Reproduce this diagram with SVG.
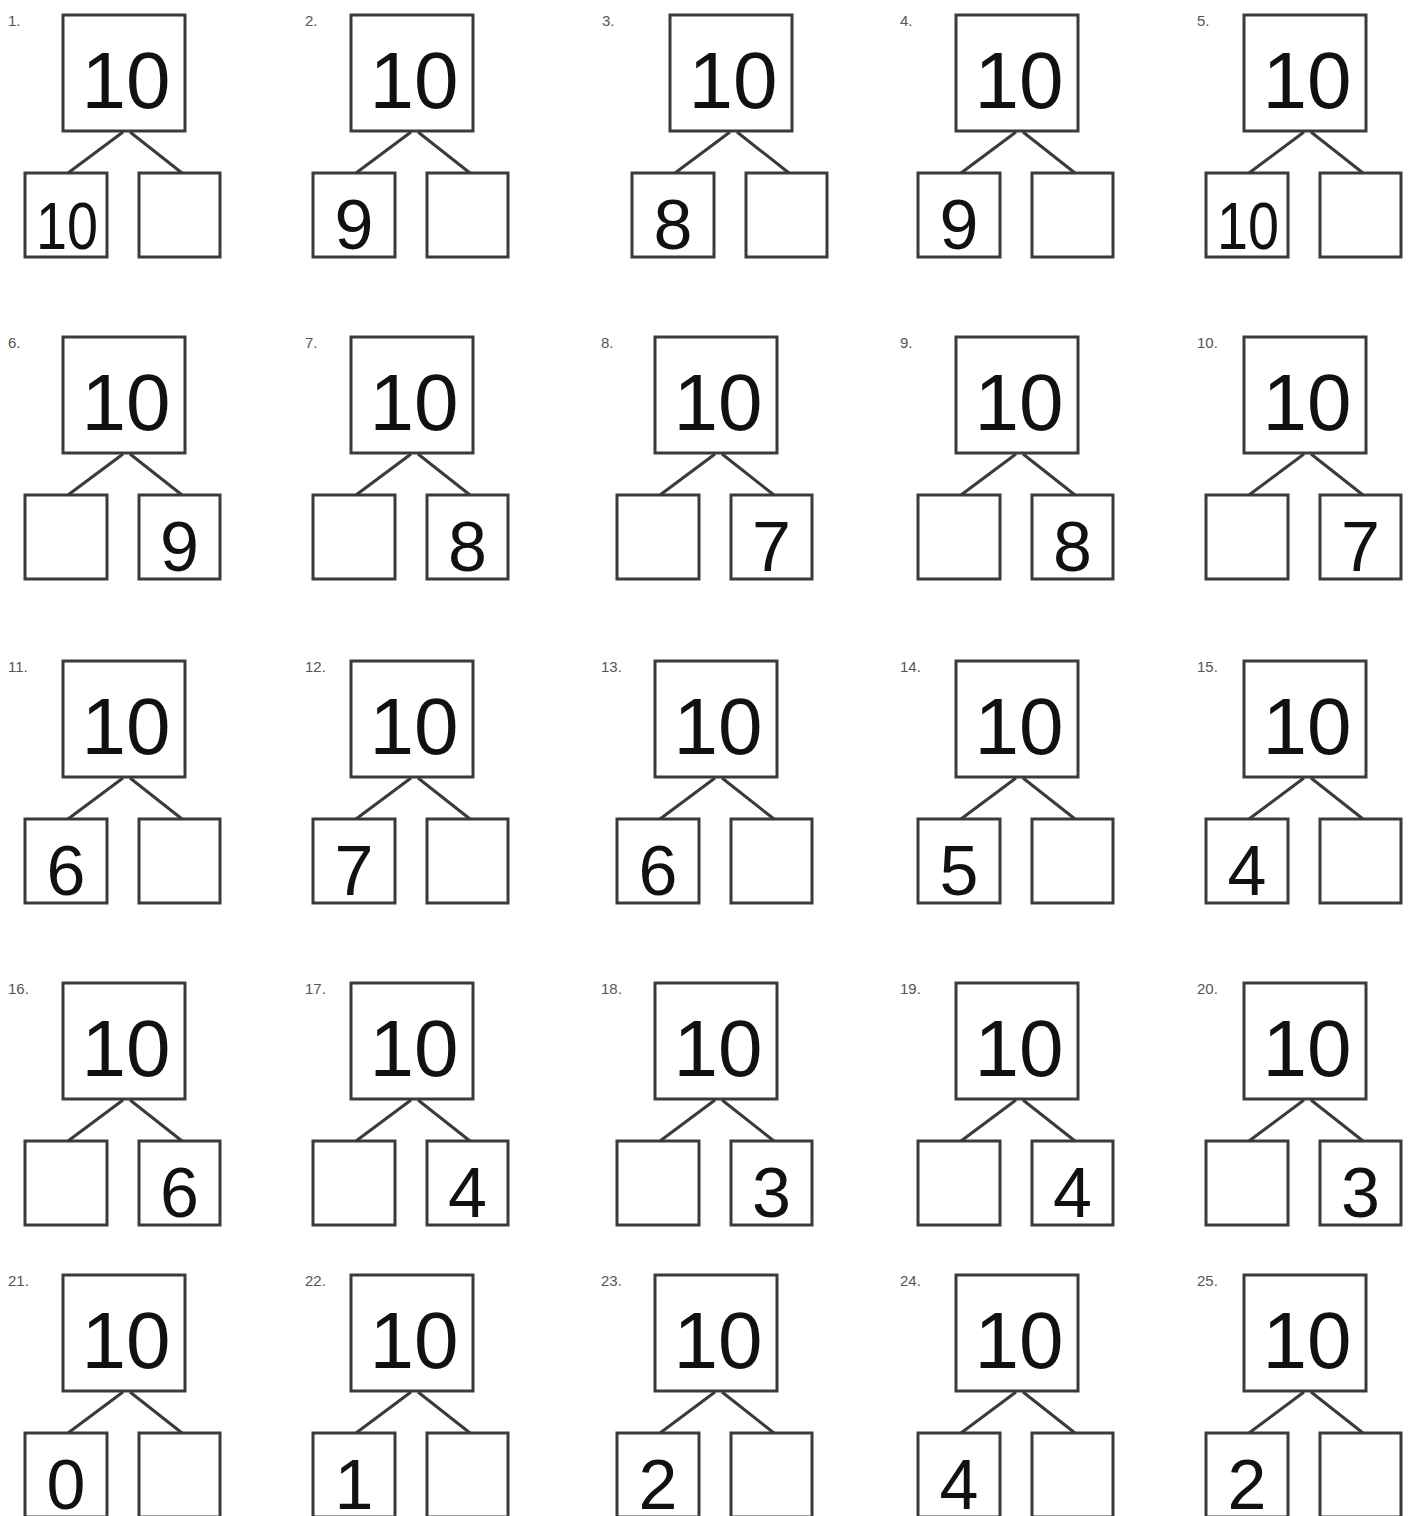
<svg xmlns="http://www.w3.org/2000/svg" width="1415" height="1516" viewBox="0 0 1415 1516">
<style>
.bx{fill:#fff;stroke:#3a3a3a;stroke-width:3}
.cn{stroke:#3a3a3a;stroke-width:3;fill:none}
.big{font-family:"Liberation Sans",Arial,sans-serif;font-size:80px;fill:#111;text-anchor:middle}
.sm{font-family:"Liberation Sans",Arial,sans-serif;font-size:70px;fill:#111;text-anchor:middle}
.sm2{font-family:"Liberation Sans",Arial,sans-serif;font-size:66px;fill:#111;text-anchor:middle}
.lb{font-family:"Liberation Sans",Arial,sans-serif;font-size:15px;fill:#555}
</style>
<defs>
<g id="bond">
<g class="top"><rect class="bx" x="0" y="0" width="122" height="116"/><text class="big" x="63" y="93">10</text></g>
<rect class="bx" x="-38" y="158" width="82" height="84"/>
<rect class="bx" x="76" y="158" width="81" height="84"/>
<g class="connectors"><path class="cn" d="M60,117 L5,158 M67,117 L119,158"/></g>
</g>
</defs>
<rect width="1415" height="1516" fill="#fff"/>
<g id="p1" transform="translate(63,15)"><use href="#bond"/><text class="lb" x="-55" y="11">1.</text><text class="sm2" x="4" y="234" textLength="62" lengthAdjust="spacingAndGlyphs">10</text></g>
<g id="p2" transform="translate(351,15)"><use href="#bond"/><text class="lb" x="-46" y="11">2.</text><text class="sm" x="3" y="234">9</text></g>
<g id="p3" transform="translate(670,15)"><use href="#bond"/><text class="lb" x="-68" y="11">3.</text><text class="sm" x="3" y="234">8</text></g>
<g id="p4" transform="translate(956,15)"><use href="#bond"/><text class="lb" x="-56" y="11">4.</text><text class="sm" x="3" y="234">9</text></g>
<g id="p5" transform="translate(1244,15)"><use href="#bond"/><text class="lb" x="-47" y="11">5.</text><text class="sm2" x="4" y="234" textLength="62" lengthAdjust="spacingAndGlyphs">10</text></g>

<g id="p6" transform="translate(63,337)"><use href="#bond"/><text class="lb" x="-55" y="11">6.</text><text class="sm" x="116.5" y="234">9</text></g>
<g id="p7" transform="translate(351,337)"><use href="#bond"/><text class="lb" x="-46" y="11">7.</text><text class="sm" x="116.5" y="234">8</text></g>
<g id="p8" transform="translate(655,337)"><use href="#bond"/><text class="lb" x="-54" y="11">8.</text><text class="sm" x="116.5" y="234">7</text></g>
<g id="p9" transform="translate(956,337)"><use href="#bond"/><text class="lb" x="-56" y="11">9.</text><text class="sm" x="116.5" y="234">8</text></g>
<g id="p10" transform="translate(1244,337)"><use href="#bond"/><text class="lb" x="-47" y="11">10.</text><text class="sm" x="116.5" y="234">7</text></g>

<g id="p11" transform="translate(63,661)"><use href="#bond"/><text class="lb" x="-55" y="11">11.</text><text class="sm" x="3" y="234">6</text></g>
<g id="p12" transform="translate(351,661)"><use href="#bond"/><text class="lb" x="-46" y="11">12.</text><text class="sm" x="3" y="234">7</text></g>
<g id="p13" transform="translate(655,661)"><use href="#bond"/><text class="lb" x="-54" y="11">13.</text><text class="sm" x="3" y="234">6</text></g>
<g id="p14" transform="translate(956,661)"><use href="#bond"/><text class="lb" x="-56" y="11">14.</text><text class="sm" x="3" y="234">5</text></g>
<g id="p15" transform="translate(1244,661)"><use href="#bond"/><text class="lb" x="-47" y="11">15.</text><text class="sm" x="3" y="234">4</text></g>

<g id="p16" transform="translate(63,983)"><use href="#bond"/><text class="lb" x="-55" y="11">16.</text><text class="sm" x="116.5" y="234">6</text></g>
<g id="p17" transform="translate(351,983)"><use href="#bond"/><text class="lb" x="-46" y="11">17.</text><text class="sm" x="116.5" y="234">4</text></g>
<g id="p18" transform="translate(655,983)"><use href="#bond"/><text class="lb" x="-54" y="11">18.</text><text class="sm" x="116.5" y="234">3</text></g>
<g id="p19" transform="translate(956,983)"><use href="#bond"/><text class="lb" x="-56" y="11">19.</text><text class="sm" x="116.5" y="234">4</text></g>
<g id="p20" transform="translate(1244,983)"><use href="#bond"/><text class="lb" x="-47" y="11">20.</text><text class="sm" x="116.5" y="234">3</text></g>

<g id="p21" transform="translate(63,1275)"><use href="#bond"/><text class="lb" x="-55" y="11">21.</text><text class="sm" x="3" y="234">0</text></g>
<g id="p22" transform="translate(351,1275)"><use href="#bond"/><text class="lb" x="-46" y="11">22.</text><text class="sm" x="3" y="234">1</text></g>
<g id="p23" transform="translate(655,1275)"><use href="#bond"/><text class="lb" x="-54" y="11">23.</text><text class="sm" x="3" y="234">2</text></g>
<g id="p24" transform="translate(956,1275)"><use href="#bond"/><text class="lb" x="-56" y="11">24.</text><text class="sm" x="3" y="234">4</text></g>
<g id="p25" transform="translate(1244,1275)"><use href="#bond"/><text class="lb" x="-47" y="11">25.</text><text class="sm" x="3" y="234">2</text></g>
</svg>
